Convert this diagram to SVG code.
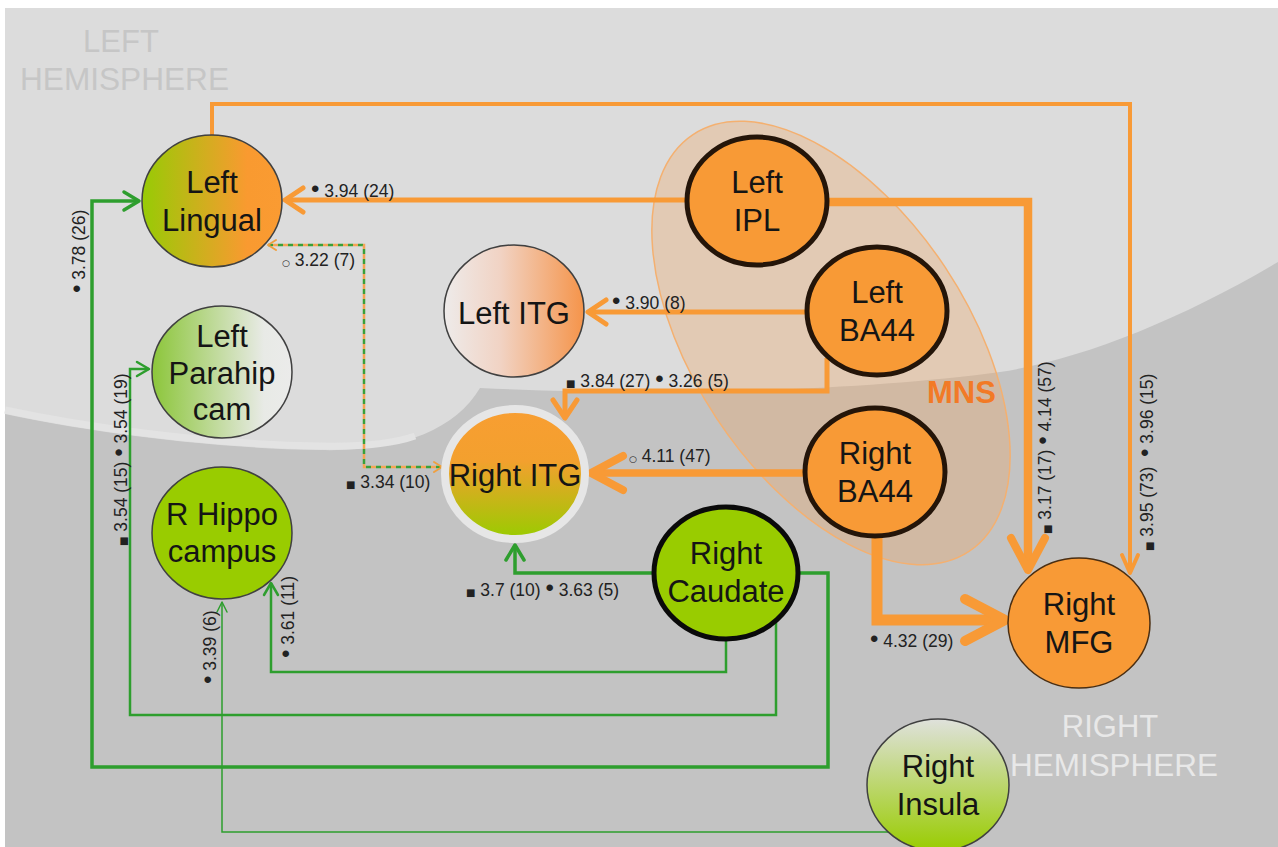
<svg xmlns="http://www.w3.org/2000/svg" width="1278" height="847" viewBox="0 0 1278 847">
<style>
.ol{fill:none;stroke:#f89a36;stroke-linejoin:miter}
.gl{fill:none;stroke:#2e9e2e;stroke-linejoin:miter}
.nt{font-family:"Liberation Sans",Arial,sans-serif;font-size:31px;fill:#151515;text-anchor:middle}
.lb{font-family:"Liberation Sans",Arial,"DejaVu Sans",sans-serif;font-size:17.5px;fill:#222}
.b{font-size:24px}
.s{font-family:"DejaVu Sans",sans-serif;font-size:10px}
.o{font-family:"DejaVu Sans",sans-serif;font-size:9px}
.hem{font-family:"Liberation Sans",Arial,sans-serif;font-size:31px;text-anchor:middle}
.thin{stroke:#404040;stroke-width:1.5}
.mns{fill:#f89a36;stroke:#241509;stroke-width:5}
</style>
<defs>
<linearGradient id="gLing" x1="0" y1="0" x2="1" y2="0"><stop offset="0" stop-color="#97cb05"/><stop offset="0.75" stop-color="#f99a30"/><stop offset="1" stop-color="#fa9b32"/></linearGradient>
<linearGradient id="gLitg" x1="0" y1="0" x2="1" y2="0"><stop offset="0" stop-color="#eeebea"/><stop offset="0.4" stop-color="#f1d3c4"/><stop offset="1" stop-color="#f5944a"/></linearGradient>
<linearGradient id="gPara" x1="0" y1="0" x2="1" y2="0"><stop offset="0" stop-color="#8cc63a"/><stop offset="0.8" stop-color="#e8eae6"/><stop offset="1" stop-color="#ebebea"/></linearGradient>
<linearGradient id="gRitg" x1="0" y1="0" x2="0" y2="1"><stop offset="0" stop-color="#f89e32"/><stop offset="0.4" stop-color="#f3a02e"/><stop offset="1" stop-color="#99cc00"/></linearGradient>
<linearGradient id="gIns" x1="0" y1="0" x2="0" y2="1"><stop offset="0" stop-color="#dfe1dc"/><stop offset="1" stop-color="#99cc00"/></linearGradient>
<marker id="aO1" markerUnits="userSpaceOnUse" markerWidth="1" markerHeight="1" refX="0" refY="0" orient="auto" overflow="visible"><path d="M-18,-12 L0,0 L-18,12" fill="none" stroke="#f89a36" stroke-width="5" stroke-linejoin="round" stroke-linecap="round"/></marker>
<marker id="aO2" markerUnits="userSpaceOnUse" markerWidth="1" markerHeight="1" refX="0" refY="0" orient="auto" overflow="visible"><path d="M-32,-17 L0,0 L-32,17" fill="none" stroke="#f89a36" stroke-width="8" stroke-linejoin="round" stroke-linecap="round"/></marker>
<marker id="aO3" markerUnits="userSpaceOnUse" markerWidth="1" markerHeight="1" refX="0" refY="0" orient="auto" overflow="visible"><path d="M-40,-21 L0,0 L-40,21" fill="none" stroke="#f89a36" stroke-width="10" stroke-linejoin="round" stroke-linecap="round"/></marker>
<marker id="aO4" markerUnits="userSpaceOnUse" markerWidth="1" markerHeight="1" refX="0" refY="0" orient="auto" overflow="visible"><path d="M-18,-8 L0,0 L-18,8" fill="none" stroke="#f89a36" stroke-width="4" stroke-linejoin="round" stroke-linecap="round"/></marker>
<marker id="aG1" markerUnits="userSpaceOnUse" markerWidth="1" markerHeight="1" refX="0" refY="0" orient="auto" overflow="visible"><path d="M-15,-9 L0,0 L-15,9" fill="none" stroke="#2e9e2e" stroke-width="3.5" stroke-linejoin="round" stroke-linecap="round"/></marker>
<marker id="aG2" markerUnits="userSpaceOnUse" markerWidth="1" markerHeight="1" refX="0" refY="0" orient="auto" overflow="visible"><path d="M-12,-7 L0,0 L-12,7" fill="none" stroke="#2e9e2e" stroke-width="2.5" stroke-linejoin="round" stroke-linecap="round"/></marker>
<marker id="aG3" markerUnits="userSpaceOnUse" markerWidth="1" markerHeight="1" refX="0" refY="0" orient="auto" overflow="visible"><path d="M-10,-5 L0,0 L-10,5" fill="none" stroke="#2e9e2e" stroke-width="1.5" stroke-linejoin="round" stroke-linecap="round"/></marker>
<marker id="aD" markerUnits="userSpaceOnUse" markerWidth="1" markerHeight="1" refX="0" refY="0" orient="auto-start-reverse" overflow="visible"><path d="M-8,-5 L0,0 L-8,5" fill="none" stroke="#f0a040" stroke-width="2" stroke-linejoin="round" stroke-linecap="round"/></marker>
</defs>

<g id="background">
<rect x="0" y="0" width="1278" height="847" fill="#ffffff"/>
<rect x="5" y="8" width="1273" height="839" fill="#dcdcdc"/>
<path d="M5,414 C80,430 200,448 320,450 C400,452 455,430 480,388 C650,396 850,392 1000,372 C1080,360 1180,320 1278,262 L1278,847 L5,847 Z" fill="#c3c3c3"/>
<path d="M5,410 C80,426 200,444 320,446 C365,447 395,443 415,436" fill="none" stroke="#e3e3e3" stroke-width="7" stroke-linecap="butt"/>
</g>

<g id="hemisphere-labels">
<text class="hem" x="121" y="52" fill="#c6c6c6">LEFT</text>
<text class="hem" x="124.5" y="90" fill="#c6c6c6" textLength="209" lengthAdjust="spacingAndGlyphs">HEMISPHERE</text>
<text class="hem" x="1110" y="737" fill="#e8e8e8">RIGHT</text>
<text class="hem" x="1114" y="776" fill="#e8e8e8" textLength="208" lengthAdjust="spacingAndGlyphs">HEMISPHERE</text>
</g>

<g id="MNS">
<ellipse cx="831" cy="343" rx="250" ry="137" transform="rotate(56.5 831 343)" fill="#f2a35a" fill-opacity="0.3" stroke="#f4b070" stroke-width="1.5"/>
<text x="927" y="403" font-family="Liberation Sans,Arial,sans-serif" font-size="31" font-weight="bold" fill="#f27a26">MNS</text>
</g>

<g id="connectors">
<path class="ol" d="M212,135 L212,104 L1130,104 L1130,573" stroke-width="4" marker-end="url(#aO4)"/>
<path class="ol" d="M686,200 L285,200" stroke-width="5" marker-end="url(#aO1)"/>
<path class="ol" d="M828,202 L1028,202 L1028,570" stroke-width="8.5" marker-end="url(#aO2)"/>
<path class="ol" d="M806,312 L588,312" stroke-width="5" marker-end="url(#aO1)"/>
<path class="ol" d="M827,358 L827,391 L565,391 L565,418" stroke-width="5" marker-end="url(#aO1)"/>
<path class="ol" d="M804,473 L591,473" stroke-width="7.5" marker-end="url(#aO2)"/>
<path class="ol" d="M877,536 L877,620 L1005,620" stroke-width="11" marker-end="url(#aO3)"/>
<path class="gl" d="M799,573 L828,573 L828,767 L92,767 L92,201 L139,201" stroke-width="3.5" marker-end="url(#aG1)"/>
<path class="gl" d="M776,622 L776,715 L130,715 L130,369 L149,369" stroke-width="2.5" marker-end="url(#aG2)"/>
<path class="gl" d="M726,640 L726,672 L271,672 L271,583" stroke-width="2.5" marker-end="url(#aG2)"/>
<path class="gl" d="M653,573 L515,573 L515,545" stroke-width="3.5" marker-end="url(#aG1)"/>
<path class="gl" d="M888,832 L222,832 L222,602" stroke-width="1.5" marker-end="url(#aG3)"/>
<path d="M268,245 L364,245 L364,467 L442,467" fill="none" stroke="#3aa03a" stroke-width="2.5" stroke-dasharray="5 5"/>
<path d="M268,245 L364,245 L364,467 L442,467" fill="none" stroke="#f4a555" stroke-width="2.5" stroke-dasharray="5 5" stroke-dashoffset="5" marker-start="url(#aD)" marker-end="url(#aD)"/>
</g>

<g id="node-left-lingual">
<ellipse cx="212" cy="201" rx="70" ry="66" fill="url(#gLing)" class="thin"/>
<text class="nt" x="212" y="193">Left</text>
<text class="nt" x="212" y="231">Lingual</text>
</g>
<g id="node-left-ipl">
<ellipse cx="757" cy="201" rx="70" ry="64" class="mns"/>
<text class="nt" x="757" y="193">Left</text>
<text class="nt" x="757" y="231">IPL</text>
</g>
<g id="node-left-itg">
<ellipse cx="514" cy="311" rx="70" ry="66" fill="url(#gLitg)" class="thin"/>
<text class="nt" x="514" y="324">Left ITG</text>
</g>
<g id="node-left-ba44">
<ellipse cx="877" cy="311" rx="70" ry="64" class="mns"/>
<text class="nt" x="877" y="303">Left</text>
<text class="nt" x="877" y="341">BA44</text>
</g>
<g id="node-left-parahipcam">
<ellipse cx="222" cy="372" rx="70" ry="66" fill="url(#gPara)" class="thin"/>
<text class="nt" x="222" y="347">Left</text>
<text class="nt" x="222" y="384">Parahip</text>
<text class="nt" x="222" y="420">cam</text>
</g>
<g id="node-right-itg">
<ellipse cx="515" cy="474" rx="70" ry="65" fill="url(#gRitg)" stroke="#e6e6e6" stroke-width="8"/>
<text class="nt" x="515" y="486">Right ITG</text>
</g>
<g id="node-right-ba44">
<ellipse cx="875" cy="472" rx="70" ry="64" class="mns"/>
<text class="nt" x="875" y="464">Right</text>
<text class="nt" x="875" y="502">BA44</text>
</g>
<g id="node-r-hippocampus">
<ellipse cx="222" cy="533" rx="70" ry="66" fill="#99cc00" class="thin"/>
<text class="nt" x="222" y="525">R Hippo</text>
<text class="nt" x="222" y="562">campus</text>
</g>
<g id="node-right-caudate">
<ellipse cx="726" cy="573" rx="72" ry="66" fill="#99cc00" stroke="#0a0a0a" stroke-width="5"/>
<text class="nt" x="726" y="564">Right</text>
<text class="nt" x="726" y="602">Caudate</text>
</g>
<g id="node-right-mfg">
<ellipse cx="1079" cy="623" rx="71" ry="65" fill="#f89a36" stroke="#4a2e12" stroke-width="1.5"/>
<text class="nt" x="1079" y="615">Right</text>
<text class="nt" x="1079" y="653">MFG</text>
</g>
<g id="node-right-insula">
<ellipse cx="938" cy="785" rx="71" ry="66" fill="url(#gIns)" class="thin"/>
<text class="nt" x="938" y="777">Right</text>
<text class="nt" x="938" y="815">Insula</text>
</g>

<g id="connector-labels">
<text class="lb" x="311" y="197"><tspan class="b">•</tspan> 3.94 (24)</text>
<text class="lb" x="282" y="266"><tspan class="o">○</tspan> 3.22 (7)</text>
<text class="lb" x="612" y="309"><tspan class="b">•</tspan> 3.90 (8)</text>
<text class="lb" x="566" y="387"><tspan class="s">■</tspan> 3.84 (27) <tspan class="b">•</tspan> 3.26 (5)</text>
<text class="lb" x="629" y="462"><tspan class="o">○</tspan> 4.11 (47)</text>
<text class="lb" x="346" y="488"><tspan class="s">■</tspan> 3.34 (10)</text>
<text class="lb" x="466" y="596"><tspan class="s">■</tspan> 3.7 (10) <tspan class="b">•</tspan> 3.63 (5)</text>
<text class="lb" x="870" y="647"><tspan class="b">•</tspan> 4.32 (29)</text>
<text class="lb" transform="translate(1051,534) rotate(-90)"><tspan class="s">■</tspan> 3.17 (17) <tspan class="b">•</tspan> 4.14 (57)</text>
<text class="lb" transform="translate(1153,551) rotate(-90)" xml:space="preserve"><tspan class="s">■</tspan> 3.95 (73)  <tspan class="b">•</tspan> 3.96 (15)</text>
<text class="lb" transform="translate(85,293) rotate(-90)"><tspan class="b">•</tspan> 3.78 (26)</text>
<text class="lb" transform="translate(127,546) rotate(-90)"><tspan class="s">■</tspan> 3.54 (15) <tspan class="b">•</tspan> 3.54 (19)</text>
<text class="lb" transform="translate(294,658) rotate(-90)"><tspan class="b">•</tspan> 3.61 (11)</text>
<text class="lb" transform="translate(216,684) rotate(-90)"><tspan class="b">•</tspan> 3.39 (6)</text>
</g>
</svg>
